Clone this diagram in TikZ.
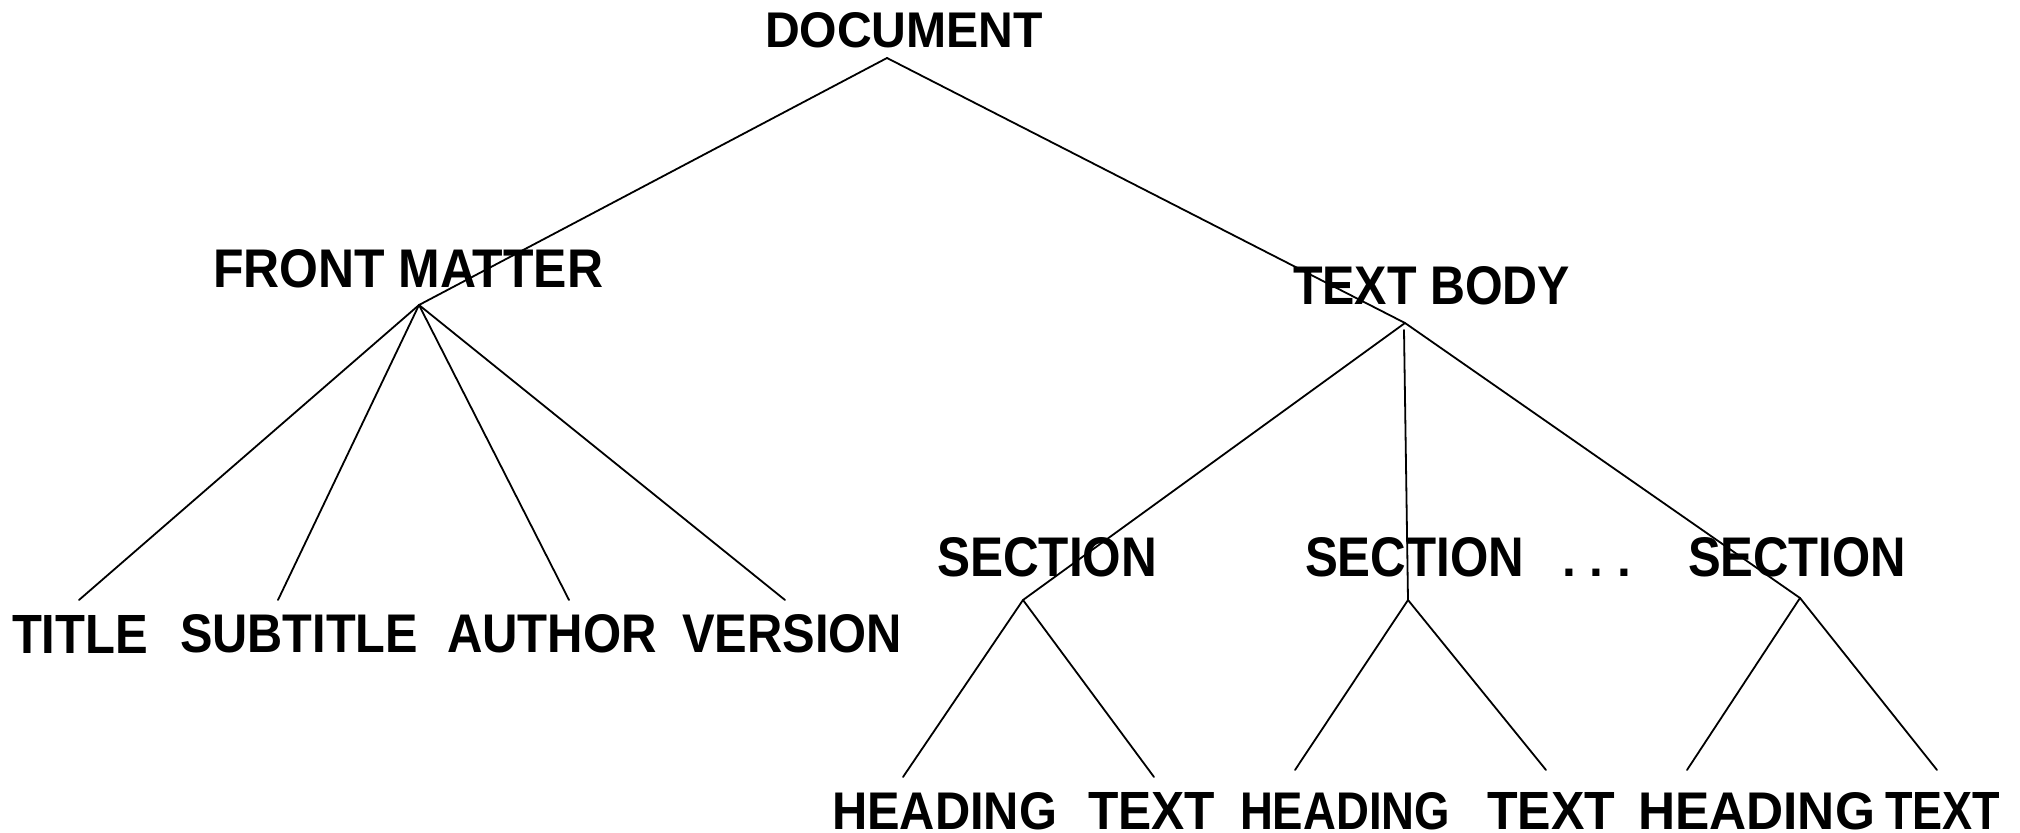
\documentclass[tikz,border=0pt]{standalone}
\usepackage{fontspec}
\setmainfont{Liberation Sans}
\newdimen\pxu \pxu=0.5pt
\newcommand\lbl[3]{\resizebox{#1\pxu}{#2\pxu}{\bfseries #3}}
\begin{document}
\begin{tikzpicture}[x=0.5pt, y=-0.5pt,
  edge/.style={line width=0.9pt, line cap=round},
  lab/.style={inner sep=0pt, outer sep=0pt, anchor=north west}]
\useasboundingbox (0,0) rectangle (2020,833);
% labels
\node[lab] (doc) at (765,13) {\lbl{278}{35}{DOCUMENT}};
\node[lab] (fm) at (213,250) {\lbl{390}{38}{FRONT MATTER}};
\node[lab] (tb) at (1293,267) {\lbl{277}{38}{TEXT BODY}};
\node[lab] (s1) at (937,538) {\lbl{220}{39}{SECTION}};
\node[lab] (s2) at (1305,538) {\lbl{219}{39}{SECTION}};
\node[lab] (s3) at (1688,538) {\lbl{218}{39}{SECTION}};
\node[inner sep=0pt, anchor=south west] (dots) at (1562,577) {\resizebox{69\pxu}{!}{\bfseries .\ .\ .}};
\node[lab] (ti) at (12,615) {\lbl{136}{38}{TITLE}};
\node[lab] (st) at (180,615) {\lbl{238}{38}{SUBTITLE}};
\node[lab] (au) at (447,615) {\lbl{210}{38}{AUTHOR}};
\node[lab] (ve) at (682,615) {\lbl{220}{38}{VERSION}};
\node[lab] (h1) at (832,792) {\lbl{225}{37}{HEADING}};
\node[lab] (x1) at (1088,792) {\lbl{127}{37}{TEXT}};
\node[lab] (h2) at (1240,792) {\lbl{210}{37}{HEADING}};
\node[lab] (x2) at (1487,792) {\lbl{128}{37}{TEXT}};
\node[lab] (h3) at (1638,792) {\lbl{237}{37}{HEADING}};
\node[lab] (x3) at (1885,792) {\lbl{115}{37}{TEXT}};
% junction points
\coordinate (docA) at (887,58);
\coordinate (fmA) at (419,305);
\coordinate (tbA) at (1405,323);
\coordinate (tbV) at (1404,330);
\coordinate (s1A) at (1023,600);
\coordinate (s2A) at (1408,600);
\coordinate (s3A) at (1800,598);
% line ends
\coordinate (tiE) at (79,600);
\coordinate (stE) at (278,600);
\coordinate (auE) at (569,600);
\coordinate (veE) at (785,600);
\coordinate (h1E) at (903,777);
\coordinate (x1E) at (1154,777);
\coordinate (h2E) at (1295,770);
\coordinate (x2E) at (1546,770);
\coordinate (h3E) at (1687,770);
\coordinate (x3E) at (1937,770);
% connectors
\draw[edge] (docA) -- (fmA);
\draw[edge] (docA) -- (tbA);
\draw[edge] (fmA) -- (tiE);
\draw[edge] (fmA) -- (stE);
\draw[edge] (fmA) -- (auE);
\draw[edge] (fmA) -- (veE);
\draw[edge] (tbA) -- (s1A);
\draw[edge] (tbV) -- (s2A);
\draw[edge] (tbA) -- (s3A);
\draw[edge] (s1A) -- (h1E);
\draw[edge] (s1A) -- (x1E);
\draw[edge] (s2A) -- (h2E);
\draw[edge] (s2A) -- (x2E);
\draw[edge] (s3A) -- (h3E);
\draw[edge] (s3A) -- (x3E);
\end{tikzpicture}
\end{document}
